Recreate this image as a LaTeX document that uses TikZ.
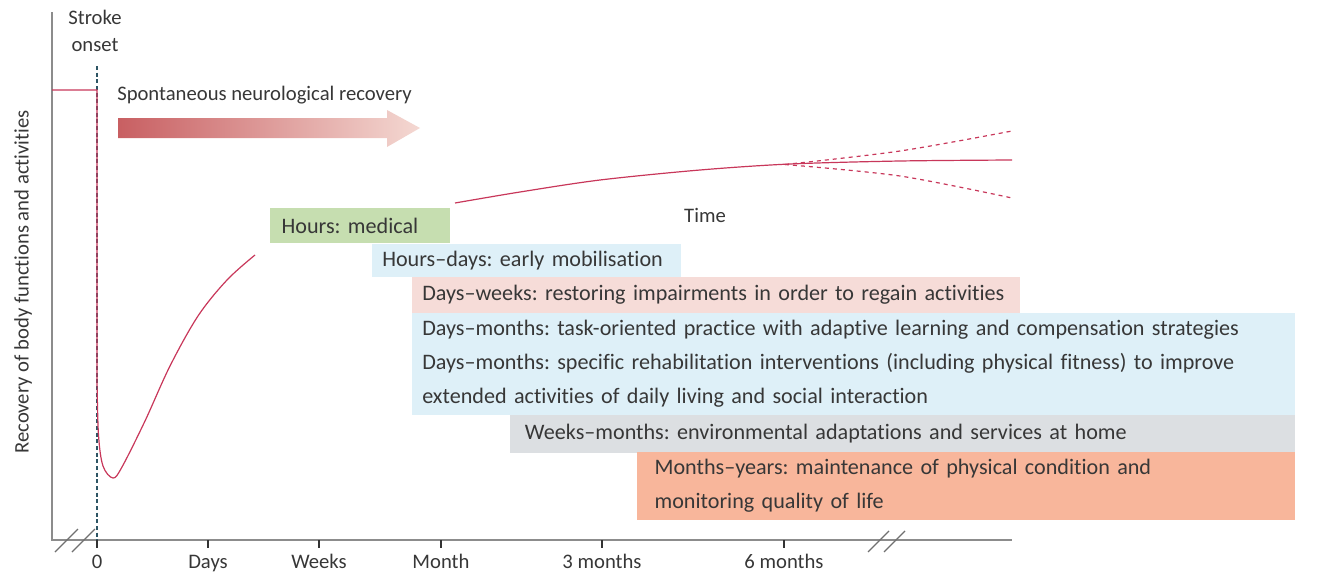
\documentclass[tikz,border=0pt]{standalone}
\usepackage{fontspec}
\setmainfont{Carlito}[Ligatures={NoCommon}]
\frenchspacing
\usetikzlibrary{calc}
\definecolor{axisgray}{RGB}{140,140,140}
\definecolor{txt}{RGB}{55,55,55}
\definecolor{crv}{RGB}{200,55,90}
\definecolor{teal}{RGB}{45,85,100}
\definecolor{cgreen}{RGB}{198,222,176}
\definecolor{cblue}{RGB}{222,240,248}
\definecolor{cpink}{RGB}{246,220,216}
\definecolor{cgray}{RGB}{220,223,226}
\definecolor{corange}{RGB}{248,182,155}
\definecolor{arrL}{RGB}{200,95,98}
\definecolor{arrR}{RGB}{244,216,210}
\begin{document}
\begin{tikzpicture}[x=0.75pt,y=-0.75pt,
  lbl/.style={text=txt,font=\fontsize{15.5}{17}\selectfont,inner sep=0pt},
  boxst/.style={anchor=north west,text=txt,font=\fontsize{16.6}{25.5}\selectfont,
     align=left,inner xsep=7.5pt,inner ysep=0pt},
  axisln/.style={draw=axisgray,line width=2.2pt},
  tickln/.style={draw=black!80,line width=1pt},
  crvln/.style={draw=crv,line width=0.9pt},
  brk/.style={draw=axisgray!80!black,line width=1pt}]
\useasboundingbox (0,0) rectangle (1342,578);
% boxes
\node[boxst,fill=cgreen,minimum width=135pt,minimum height=35*0.75pt,text width=118pt,inner xsep=8.5pt] (b1) at (270,208) {Hours: medical};
\node[boxst,fill=cblue,minimum width=231.75pt,minimum height=33*0.75pt,text width=216.75pt] (b2) at (372,243.5) {Hours–days: early mobilisation};
\node[boxst,fill=cpink,minimum width=456pt,minimum height=35.5*0.75pt,text width=441pt] (b3) at (412,277) {Days–weeks: restoring impairments in order to regain activities};
\node[boxst,fill=cblue,minimum width=662.25pt,minimum height=102.5*0.75pt,text width=647.25pt] (b4) at (412,312.5) {Days–months: task-oriented practice with adaptive learning and compensation strategies\\Days–months: specific rehabilitation interventions (including physical fitness) to improve\\extended activities of daily living and social interaction};
\node[boxst,fill=cgray,minimum width=588.75pt,minimum height=37.5*0.75pt,text width=566.75pt,inner xsep=11pt] (b5) at (510,415) {Weeks–months: environmental adaptations and services at home};
\node[boxst,fill=corange,minimum width=493.5pt,minimum height=67.5*0.75pt,text width=467.5pt,inner xsep=13pt] (b6) at (637,452) {Months–years: maintenance of physical condition and\\monitoring quality of life};
% axes
\coordinate (org) at (52,540);
\coordinate (ytop) at (52,12);
\coordinate (xend) at (1012,540);
\draw[axisln] (ytop) -- (org) -- (xend);
\draw[brk] (55,552) -- (78,529);
\draw[brk] (72,552) -- (95,529);
\draw[brk] (868,552) -- (889,531);
\draw[brk] (884,552) -- (905,531);
% dashed onset line
\coordinate (on1) at (97,66);
\coordinate (on2) at (97,540);
\draw[teal,dashed,dash pattern=on 3pt off 2pt,line width=0.8pt] (on1) -- (on2);
% ticks and labels
\foreach \x/\t/\n in {97/0/t0,208/Days/t1,319/Weeks/t2,441/Month/t3,602/3 months/t4,784/6 months/t5}{
  \draw[tickln] (\x,540) -- (\x,548);
  \node[lbl,anchor=base] (\n) at (\x,568) {\t};
}
\node[lbl,align=center,font=\fontsize{15.5}{20}\selectfont] (onset) at (95,31) {Stroke\\onset};
\node[lbl,rotate=90] (ylab) at (23,282) {Recovery of body functions and activities};
\node[lbl] (time) at (705,215) {Time};
\node[lbl,anchor=west] (snr) at (117,95) {Spontaneous neurological recovery};
% gradient arrow
\shade[left color=arrL,right color=arrR] (118,118) -- (387,118) -- (387,110) -- (420,128) -- (387,147) -- (387,138) -- (118,138) -- cycle;
% curves
\draw[crvln] (52,90) -- (97,90) -- (97,380) plot[smooth,tension=0.55] coordinates {(97,380) (98.5,435) (103,466) (113,478) (122,467) (145,421) (170,366) (198,316) (227,280) (255,255)};
\draw[crvln] plot[smooth] coordinates {(455,203) (520,192) (600,180) (700,170) (790,164) (900,161) (1012,160)};
\draw[crvln,dashed,dash pattern=on 3pt off 3pt] plot[smooth] coordinates {(785,164.5) (900,151) (1012,131)};
\draw[crvln,dashed,dash pattern=on 3pt off 3pt] plot[smooth] coordinates {(785,164.5) (900,176) (1012,198)};
\end{tikzpicture}
\end{document}
